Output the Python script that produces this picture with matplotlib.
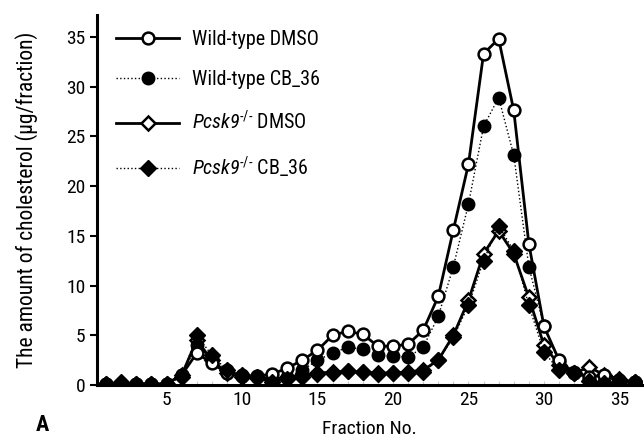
import matplotlib
matplotlib.use('Agg')
import matplotlib.pyplot as plt
import numpy as np

plt.rcParams['font.family'] = ['Roboto Condensed', 'DejaVu Sans']
plt.rcParams['mathtext.fontset'] = 'custom'
plt.rcParams['mathtext.rm'] = 'Roboto Condensed'
plt.rcParams['mathtext.it'] = 'Roboto Condensed:italic'
plt.rcParams['mathtext.sf'] = 'Roboto Condensed:italic'

fractions = np.arange(1, 37)

wt_dmso = [0.1, 0.1, 0.1, 0.1, 0.1, 1.0, 3.2, 2.2, 1.2, 0.9, 0.9, 1.1,
           1.7, 2.5, 3.5, 5.0, 5.4, 5.1, 3.9, 3.9, 4.1, 5.5, 8.9, 15.6,
           22.2, 33.3, 34.8, 27.6, 14.2, 5.9, 2.5, 1.2, 0.8, 1.0, 0.5, 0.3]
wt_cb36 = [0.1, 0.1, 0.1, 0.1, 0.1, 1.0, 4.0, 2.7, 1.5, 1.0, 0.8, 0.5,
           0.8, 1.5, 2.5, 3.2, 3.8, 3.6, 3.0, 2.9, 2.8, 3.8, 6.9, 11.9,
           18.2, 26.0, 28.9, 23.1, 11.9, 5.9, 2.3, 1.3, 0.5, 0.3, 0.3, 0.3]
ko_dmso = [0.1, 0.1, 0.1, 0.1, 0.1, 1.0, 4.5, 2.5, 1.2, 0.8, 0.7, 0.5,
           0.8, 1.0, 1.2, 1.3, 1.4, 1.3, 1.2, 1.2, 1.3, 1.5, 2.5, 5.0,
           8.5, 13.2, 15.5, 13.2, 8.8, 4.0, 2.0, 1.2, 1.8, 1.0, 0.6, 0.3]
ko_cb36 = [0.1, 0.3, 0.1, 0.1, 0.1, 0.8, 5.0, 3.0, 1.5, 1.0, 0.8, 0.3,
           0.6, 0.8, 1.1, 1.2, 1.4, 1.3, 1.1, 1.2, 1.2, 1.3, 2.5, 4.8,
           8.0, 12.5, 16.0, 13.5, 8.0, 3.3, 1.5, 1.2, 0.4, 0.2, 0.3, 0.3]

fig = plt.figure(figsize=(6.44, 4.4), dpi=100)
ax = fig.add_axes([0.151, 0.125, 0.846, 0.841])

ax.plot(fractions, wt_dmso, '-', color='black', lw=2.0, marker='o', ms=8.5,
        mfc='white', mec='black', mew=1.8, label='Wild-type DMSO', zorder=4)
ax.plot(fractions, wt_cb36, ':', color='black', lw=1.0, marker='o', ms=9,
        mfc='black', mec='black', label='Wild-type CB_36', zorder=3)
ax.plot(fractions, ko_dmso, '-', color='black', lw=2.0, marker='D', ms=7.5,
        mfc='white', mec='black', mew=1.8, label=r'$\mathsf{Pcsk9}^{\text{-/-}}$ DMSO', zorder=2)
ax.plot(fractions, ko_cb36, ':', color='black', lw=1.0, marker='D', ms=8,
        mfc='black', mec='black', label=r'$\mathsf{Pcsk9}^{\text{-/-}}$ CB_36', zorder=5)

ax.set_xlim(0.41, 36.5)
ax.set_ylim(0, 37.2)
ax.set_xticks(range(5, 36, 5))
ax.set_xticks(range(1, 37), minor=True)
ax.set_yticks(range(0, 36, 5))
ax.spines['top'].set_visible(False)
ax.spines['right'].set_visible(False)
ax.spines['left'].set_linewidth(2.2)
ax.spines['bottom'].set_linewidth(2.2)
ax.tick_params(axis='y', which='major', labelsize=14, width=1.5, length=5, direction='out')
ax.tick_params(axis='x', which='both', labelsize=14, width=0.8, length=3, direction='in',
               color='#cccccc', pad=4)

ax.set_xlabel('Fraction No.', fontsize=14, labelpad=8)
ax.set_ylabel('The amount of cholesterol (μg/fraction)', fontsize=15.5, labelpad=20)

leg = ax.legend(loc='upper left', bbox_to_anchor=(0.002, 1.008), frameon=False,
                fontsize=14.5, handlelength=3.1, labelspacing=1.05, handletextpad=0.65)

fig.text(0.055, 0.02, 'A', fontsize=16, fontweight='bold')

fig.savefig('out.png', dpi=100)
